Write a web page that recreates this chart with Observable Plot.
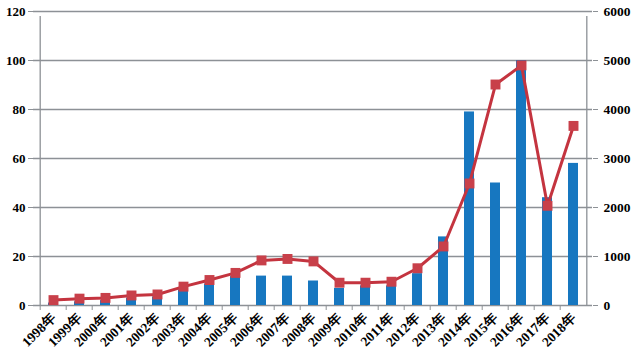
<!DOCTYPE html>
<html>
<head>
<meta charset="utf-8">
<script src="https://cdn.jsdelivr.net/npm/d3@7"></script>
<script src="https://cdn.jsdelivr.net/npm/@observablehq/plot@0.6"></script>
<style>
  html, body { margin: 0; padding: 0; background: #fff; }
  #chart svg { display: block; }
  #chart svg, #chart svg text { font-family: "Liberation Serif", "Times New Roman", serif !important; font-weight: bold !important; }
</style>
</head>
<body>
<div id="chart"></div>
<script>
const years = ["1998年","1999年","2000年","2001年","2002年","2003年","2004年","2005年","2006年","2007年","2008年","2009年","2010年","2011年","2012年","2013年","2014年","2015年","2016年","2017年","2018年"];
const barValues = [1, 1.5, 2, 3, 3.5, 6.4, 8.8, 11.8, 12, 12, 10, 7, 8, 8, 13, 28, 79, 50, 100, 44, 58];
const lineValues = [110, 140, 155, 205, 225, 385, 520, 665, 920, 950, 900, 465, 465, 485, 760, 1205, 2490, 4510, 4900, 2035, 3665];
const leftTicks = [0, 20, 40, 60, 80, 100, 120];
const rightTicks = [0, 1000, 2000, 3000, 4000, 5000, 6000];
const ratio = 50; // right axis units per left axis unit

const W = 632, H = 353;
const mL = 33, mR = 40, mT = 11, mB = 48;
const step = (W - mL - mR) / years.length;

const rows = years.map((y, i) => ({year: y, bar: barValues[i], line: lineValues[i] / ratio}));

const gridColor = "#8d9196";

const chart = Plot.plot({
  width: W,
  height: H,
  marginLeft: mL,
  marginRight: mR,
  marginTop: mT,
  marginBottom: mB,
  style: {fontSize: "13px", color: "#000", background: "#fff"},
  x: {domain: years, paddingInner: 0.62, paddingOuter: 0.31, label: null},
  y: {domain: [0, 120], label: null},
  marks: [
    Plot.ruleY(leftTicks, {stroke: gridColor, strokeWidth: 1.3}),
    Plot.ruleX([years[0]], {y1: 0, y2: 120, dx: -step / 2, stroke: gridColor, strokeWidth: 1.3, insetBottom: -5}),
    Plot.ruleX([years[years.length - 1]], {y1: 0, y2: 120, dx: step / 2, stroke: gridColor, strokeWidth: 1.3, insetBottom: -5}),
    Plot.axisY(leftTicks, {anchor: "left", tickSize: 5, tickPadding: 3, stroke: gridColor, fill: "#000", fontSize: 13, label: null}),
    Plot.axisY(rightTicks.map(d => d / ratio), {anchor: "right", tickSize: 5, tickPadding: 6, stroke: gridColor, fill: "#000", fontSize: 13.5, tickFormat: d => String(Math.round(d * ratio)), label: null}),
    Plot.axisX({tickSize: 5, stroke: gridColor, fill: "none", dx: -step / 2, label: null}),
    Plot.axisX({tickSize: 0, tickPadding: 10, tickRotate: -45, fill: "#000", fontSize: 13.5, label: null}),
    Plot.barY(rows, {x: "year", y: "bar", fill: "#1777c0"}),
    Plot.line(rows, {x: "year", y: "line", stroke: "#c4343f", strokeWidth: 3}),
    Plot.dot(rows, {x: "year", y: "line", symbol: "square", r: 5.6, fill: "#c8404a", stroke: "none"})
  ]
});
document.getElementById("chart").appendChild(chart);
</script>
</body>
</html>
